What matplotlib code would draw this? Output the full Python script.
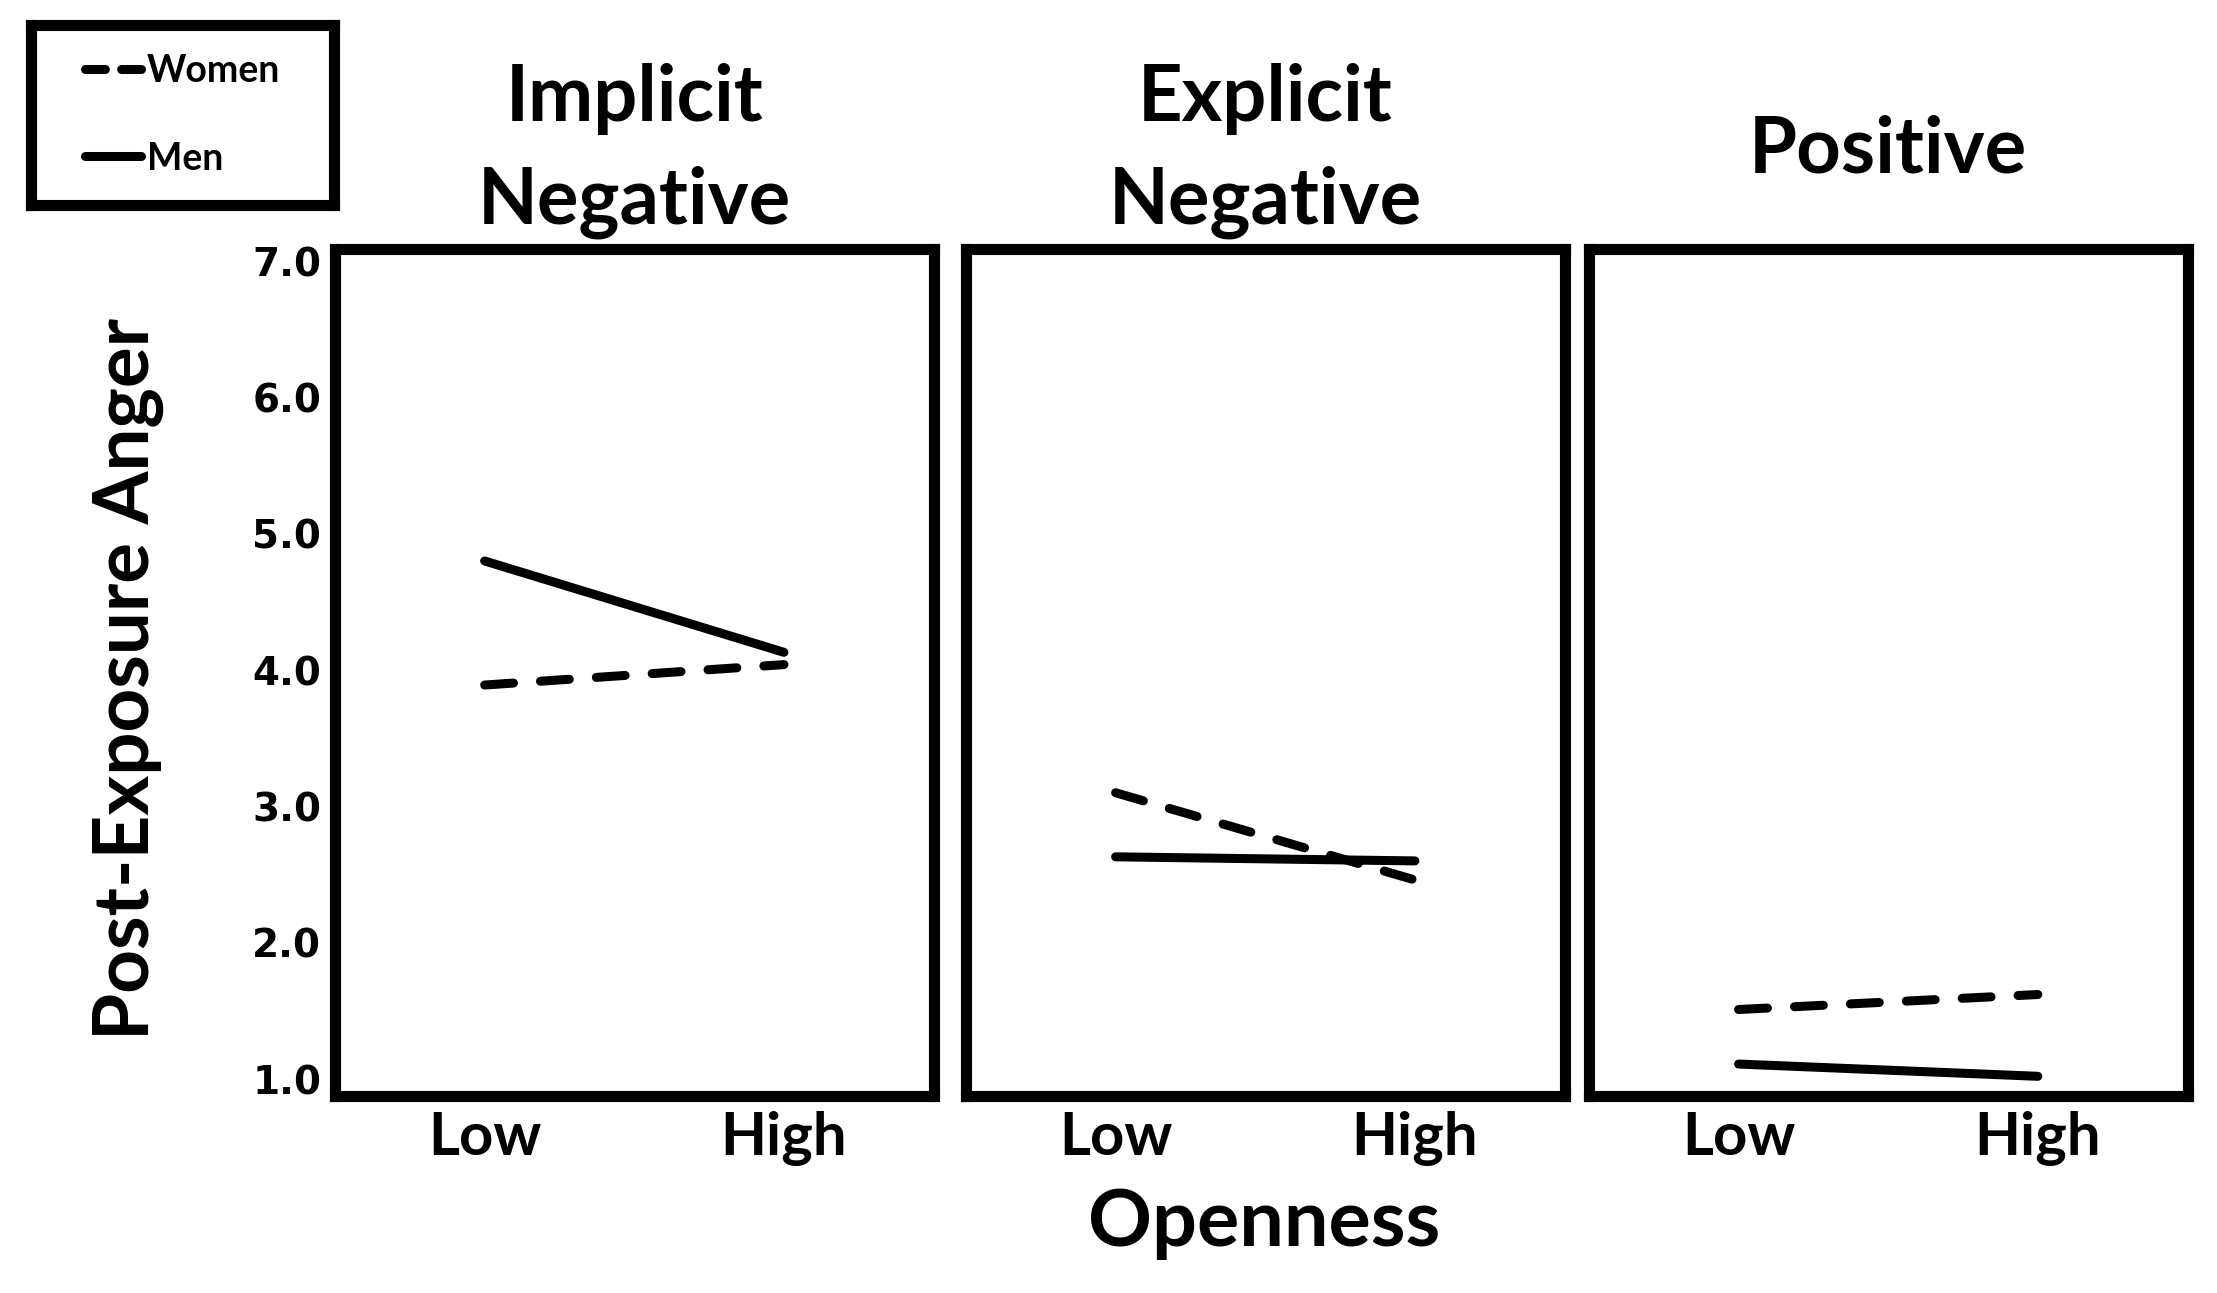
import numpy as np
import matplotlib.pyplot as plt

# data
levels = ["Low", "High"]
panels = ["Implicit\nNegative", "Explicit\nNegative", "Positive"]
women = [[3.89, 4.04], [3.10, 2.46], [1.51, 1.62]]
men = [[4.80, 4.13], [2.63, 2.60], [1.11, 1.02]]
yticks = [1.0, 2.0, 3.0, 4.0, 5.0, 6.0, 7.0]

plt.rcParams['font.family'] = ['Lato', 'DejaVu Sans']

fig = plt.figure(figsize=(22.17, 12.93), dpi=100)

lefts = [0.1511, 0.4357, 0.7167]
bottom, height, width = 0.1524, 0.655, 0.2700
x = np.arange(len(levels))
dash = (0, (3.2, 3))

for i, name in enumerate(panels):
    ax = fig.add_axes([lefts[i], bottom, width, height])
    ax.plot(x, women[i], color='black', lw=6.5, linestyle=dash,
            dash_capstyle='round', solid_capstyle='round')
    ax.plot(x, men[i], color='black', lw=6.5, solid_capstyle='round')
    ax.set_xlim(-0.5, 1.5)
    ax.set_ylim(0.876, 7.088)
    ax.set_xticks(x)
    ax.set_xticklabels(levels, fontsize=43, fontweight='bold')
    ax.tick_params(axis='x', length=0, pad=11)
    if i == 0:
        ax.set_yticks(yticks)
        ax.set_yticklabels([f"{v:.1f}" for v in yticks], fontsize=28,
                           fontweight='bold', family='DejaVu Sans')
        ax.tick_params(axis='y', length=0, pad=10)
    else:
        ax.set_yticks([])
    for s in ax.spines.values():
        s.set_linewidth(8)
        s.set_color('black')
    ax.text(0.5, 1.116, name, transform=ax.transAxes, ha='center', va='center',
            fontsize=56, fontweight='bold', linespacing=1.52)

fig.text(0.058, 0.475, "Post-Exposure Anger", rotation=90, ha='center', va='center',
         fontsize=55, fontweight='bold')
fig.text(0.570, 0.053, "Openness", ha='center', va='center',
         fontsize=57, fontweight='bold')

# legend sits in its own framed box
lax = fig.add_axes([0.014, 0.8415, 0.1367, 0.1392])
lax.set_xticks([])
lax.set_yticks([])
for s in lax.spines.values():
    s.set_linewidth(8)
    s.set_color('black')
hw, = lax.plot([], [], color='black', lw=6.5, linestyle=(0, (2.2, 1.8)),
               dash_capstyle='round', label='Women')
hm, = lax.plot([], [], color='black', lw=6.5, solid_capstyle='round', label='Men')
lax.legend(handles=[hw, hm], loc='center', frameon=False,
           prop={'weight': 'bold', 'size': 27}, handlelength=1.5,
           handletextpad=0.15, labelspacing=1.42, borderpad=0)

fig.savefig("out.png", dpi=100)
